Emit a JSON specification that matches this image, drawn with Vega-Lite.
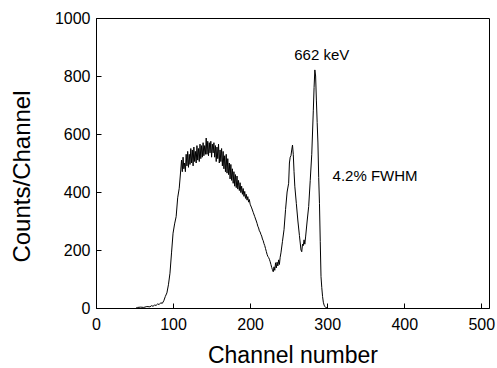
{
  "$schema": "https://vega.github.io/schema/vega-lite/v6.json",
  "width": 393,
  "height": 290,
  "autosize": "none",
  "padding": {"left": 96, "top": 18, "right": 8, "bottom": 60},
  "config": {
    "view": {"stroke": "black"},
    "axis": {"grid": false, "tickColor": "black", "domainColor": "black", "labelColor": "black", "titleColor": "black", "labelFontSize": 16, "labelFont": "Liberation Sans", "titleFont": "Liberation Sans", "titleFontWeight": "normal", "labelFlush": false, "labelOverlap": false}
  },
  "encoding": {
    "x": {
      "field": "channel", "type": "quantitative",
      "scale": {"domain": [0, 510], "nice": false},
      "axis": {
        "values": [0, 100, 200, 300, 400, 500],
        "format": "d",
        "ticks": true,
        "tickSize": -5,
        "tickColor": "black",
        "tickWidth": 1,
        "tickOpacity": 1,
        "zindex": 1,
        "labelPadding": 13,
        "title": "Channel number",
        "titleFontSize": 23,
        "titleBaseline": "alphabetic",
        "titleY": 54
      }
    },
    "y": {
      "field": "counts", "type": "quantitative",
      "scale": {"domain": [0, 1000], "nice": false},
      "axis": {
        "values": [0, 200, 400, 600, 800, 1000],
        "format": "d",
        "ticks": true,
        "tickSize": -5,
        "tickColor": "black",
        "tickWidth": 1,
        "tickOpacity": 1,
        "zindex": 1,
        "labelPadding": 11,
        "title": "Counts/Channel",
        "titleFontSize": 24,
        "titleAngle": -90,
        "titleBaseline": "alphabetic",
        "titleX": -67,
        "titleY": 158
      }
    }
  },
  "layer": [
    {
      "data": {
        "values": [
          {"channel": 52, "counts": 0}, {"channel": 54, "counts": 2}, {"channel": 58, "counts": 3}, {"channel": 62, "counts": 2},
          {"channel": 66, "counts": 5}, {"channel": 70, "counts": 4}, {"channel": 72, "counts": 8}, {"channel": 74, "counts": 6},
          {"channel": 76, "counts": 10}, {"channel": 78, "counts": 9}, {"channel": 80, "counts": 14}, {"channel": 82, "counts": 12},
          {"channel": 84, "counts": 18}, {"channel": 86, "counts": 16}, {"channel": 88, "counts": 25}, {"channel": 90, "counts": 40},
          {"channel": 92, "counts": 52}, {"channel": 94, "counts": 80}, {"channel": 96, "counts": 120}, {"channel": 98, "counts": 190},
          {"channel": 100, "counts": 258}, {"channel": 102, "counts": 290}, {"channel": 104, "counts": 315}, {"channel": 106, "counts": 380},
          {"channel": 108, "counts": 413}, {"channel": 110, "counts": 476}, {"channel": 111, "counts": 510}, {"channel": 112, "counts": 470},
          {"channel": 113, "counts": 520}, {"channel": 114, "counts": 480}, {"channel": 115, "counts": 500}, {"channel": 116, "counts": 470},
          {"channel": 117, "counts": 530}, {"channel": 118, "counts": 490}, {"channel": 119, "counts": 540}, {"channel": 120, "counts": 485},
          {"channel": 121, "counts": 530}, {"channel": 122, "counts": 495}, {"channel": 123, "counts": 550}, {"channel": 124, "counts": 500},
          {"channel": 125, "counts": 545}, {"channel": 126, "counts": 490}, {"channel": 127, "counts": 555}, {"channel": 128, "counts": 505},
          {"channel": 129, "counts": 540}, {"channel": 130, "counts": 500}, {"channel": 131, "counts": 560}, {"channel": 132, "counts": 510},
          {"channel": 133, "counts": 550}, {"channel": 134, "counts": 505}, {"channel": 135, "counts": 565}, {"channel": 136, "counts": 515},
          {"channel": 137, "counts": 560}, {"channel": 138, "counts": 520}, {"channel": 139, "counts": 570}, {"channel": 140, "counts": 525},
          {"channel": 141, "counts": 560}, {"channel": 142, "counts": 530}, {"channel": 143, "counts": 586}, {"channel": 144, "counts": 530},
          {"channel": 145, "counts": 575}, {"channel": 146, "counts": 525}, {"channel": 147, "counts": 570}, {"channel": 148, "counts": 535},
          {"channel": 149, "counts": 575}, {"channel": 150, "counts": 520}, {"channel": 151, "counts": 565}, {"channel": 152, "counts": 535},
          {"channel": 153, "counts": 570}, {"channel": 154, "counts": 520}, {"channel": 155, "counts": 560}, {"channel": 156, "counts": 505},
          {"channel": 157, "counts": 555}, {"channel": 158, "counts": 515}, {"channel": 159, "counts": 565}, {"channel": 160, "counts": 500},
          {"channel": 161, "counts": 545}, {"channel": 162, "counts": 505}, {"channel": 163, "counts": 550}, {"channel": 164, "counts": 490},
          {"channel": 165, "counts": 540}, {"channel": 166, "counts": 480}, {"channel": 167, "counts": 525}, {"channel": 168, "counts": 470},
          {"channel": 169, "counts": 530}, {"channel": 170, "counts": 465}, {"channel": 171, "counts": 515}, {"channel": 172, "counts": 460},
          {"channel": 173, "counts": 500}, {"channel": 174, "counts": 445}, {"channel": 175, "counts": 495}, {"channel": 176, "counts": 440},
          {"channel": 177, "counts": 480}, {"channel": 178, "counts": 430}, {"channel": 179, "counts": 470}, {"channel": 180, "counts": 420},
          {"channel": 181, "counts": 460}, {"channel": 182, "counts": 415}, {"channel": 183, "counts": 455}, {"channel": 184, "counts": 410},
          {"channel": 185, "counts": 440}, {"channel": 186, "counts": 405}, {"channel": 187, "counts": 432}, {"channel": 188, "counts": 398},
          {"channel": 189, "counts": 420}, {"channel": 190, "counts": 392}, {"channel": 191, "counts": 412}, {"channel": 192, "counts": 385},
          {"channel": 193, "counts": 402}, {"channel": 194, "counts": 378}, {"channel": 195, "counts": 392}, {"channel": 196, "counts": 372},
          {"channel": 197, "counts": 384}, {"channel": 198, "counts": 365}, {"channel": 199, "counts": 374}, {"channel": 200, "counts": 358},
          {"channel": 202, "counts": 345}, {"channel": 204, "counts": 330}, {"channel": 206, "counts": 315}, {"channel": 208, "counts": 300},
          {"channel": 209, "counts": 292}, {"channel": 210, "counts": 282}, {"channel": 211, "counts": 276}, {"channel": 212, "counts": 266},
          {"channel": 213, "counts": 262}, {"channel": 214, "counts": 254}, {"channel": 215, "counts": 248}, {"channel": 216, "counts": 238},
          {"channel": 217, "counts": 232}, {"channel": 218, "counts": 222}, {"channel": 219, "counts": 215}, {"channel": 220, "counts": 205},
          {"channel": 221, "counts": 195}, {"channel": 222, "counts": 185}, {"channel": 223, "counts": 178}, {"channel": 224, "counts": 174},
          {"channel": 225, "counts": 168}, {"channel": 226, "counts": 160}, {"channel": 227, "counts": 150}, {"channel": 228, "counts": 140},
          {"channel": 229, "counts": 132}, {"channel": 230, "counts": 125}, {"channel": 231, "counts": 142}, {"channel": 232, "counts": 130},
          {"channel": 233, "counts": 156}, {"channel": 234, "counts": 138}, {"channel": 235, "counts": 158}, {"channel": 236, "counts": 145},
          {"channel": 237, "counts": 166}, {"channel": 238, "counts": 150}, {"channel": 239, "counts": 175}, {"channel": 240, "counts": 190},
          {"channel": 242, "counts": 230}, {"channel": 244, "counts": 270}, {"channel": 246, "counts": 340}, {"channel": 248, "counts": 400},
          {"channel": 250, "counts": 430}, {"channel": 251, "counts": 500}, {"channel": 252, "counts": 520}, {"channel": 253, "counts": 525},
          {"channel": 254, "counts": 545}, {"channel": 255, "counts": 562}, {"channel": 256, "counts": 530}, {"channel": 257, "counts": 470},
          {"channel": 258, "counts": 420}, {"channel": 260, "counts": 360}, {"channel": 262, "counts": 300}, {"channel": 264, "counts": 250},
          {"channel": 266, "counts": 200}, {"channel": 267, "counts": 194}, {"channel": 268, "counts": 220}, {"channel": 269, "counts": 215},
          {"channel": 270, "counts": 235}, {"channel": 271, "counts": 220}, {"channel": 272, "counts": 245}, {"channel": 274, "counts": 300},
          {"channel": 276, "counts": 350}, {"channel": 278, "counts": 440}, {"channel": 280, "counts": 530}, {"channel": 282, "counts": 680},
          {"channel": 283, "counts": 760}, {"channel": 284, "counts": 821}, {"channel": 285, "counts": 800}, {"channel": 286, "counts": 717},
          {"channel": 287, "counts": 640}, {"channel": 288, "counts": 569}, {"channel": 289, "counts": 450}, {"channel": 290, "counts": 360},
          {"channel": 291, "counts": 230}, {"channel": 292, "counts": 108}, {"channel": 293, "counts": 70}, {"channel": 294, "counts": 40},
          {"channel": 295, "counts": 20}, {"channel": 296, "counts": 10}, {"channel": 297, "counts": 5}, {"channel": 298, "counts": 2},
          {"channel": 300, "counts": 0}
        ]
      },
      "mark": {"type": "line", "color": "black", "strokeWidth": 1}
    },
    {
      "data": {"values": [{"channel": 293, "counts": 873, "label": "662 keV"}]},
      "mark": {"type": "text", "fontSize": 15, "align": "center", "baseline": "middle", "color": "black", "font": "Liberation Sans"},
      "encoding": {"text": {"field": "label"}}
    },
    {
      "data": {"values": [{"channel": 307, "counts": 455, "label": "4.2% FWHM"}]},
      "mark": {"type": "text", "fontSize": 15, "align": "left", "baseline": "middle", "color": "black", "font": "Liberation Sans"},
      "encoding": {"text": {"field": "label"}}
    }
  ]
}
